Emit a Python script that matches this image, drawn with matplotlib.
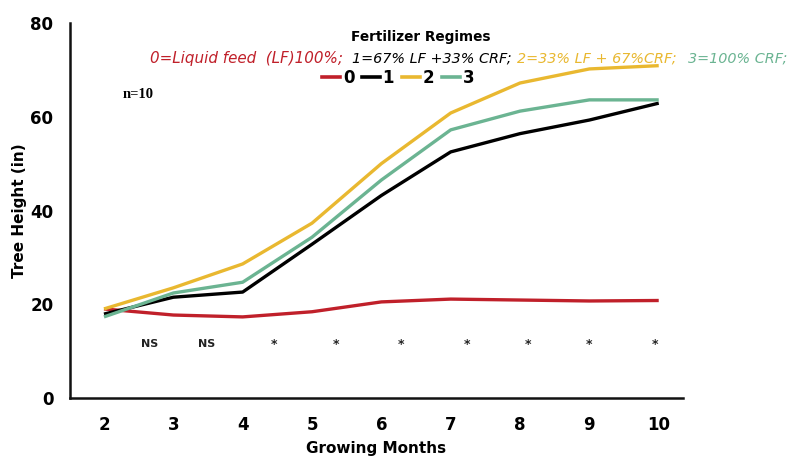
import matplotlib
matplotlib.use("Agg")
import matplotlib.pyplot as plt
from matplotlib.lines import Line2D

months = [2, 3, 4, 5, 6, 7, 8, 9, 10]
regime0 = [19.0, 17.7, 17.3, 18.4, 20.5, 21.1, 20.9, 20.7, 20.8]
regime1 = [17.9, 21.5, 22.6, 32.8, 43.2, 52.5, 56.4, 59.3, 62.9]
regime2 = [19.0, 23.5, 28.6, 37.3, 50.0, 60.8, 67.2, 70.2, 70.9]
regime3 = [17.3, 22.4, 24.7, 34.3, 46.5, 57.2, 61.2, 63.6, 63.6]
series_names = ["0", "1", "2", "3"]
colors = ["#C0202A", "#000000", "#E9B830", "#6BB492"]

sig_x = [2.66, 3.48, 4.45, 5.34, 6.29, 7.23, 8.11, 8.99, 9.94]
sig_labels = ["NS", "NS", "*", "*", "*", "*", "*", "*", "*"]
sig_y = 11.5

subtitle_parts = ["0=Liquid feed  (LF)100%;", "1=67% LF +33% CRF;",
                  "2=33% LF + 67%CRF;", "3=100% CRF;"]

plt.rcParams['font.family'] = ['DejaVu Sans']

fig = plt.figure(figsize=(7.92, 4.58), dpi=100)
ax = fig.add_axes([70/792, 1-398/458, (683-70)/792, (398-23)/458])

for vals, c, n in zip([regime0, regime1, regime2, regime3], colors, series_names):
    ax.plot(months, vals, color=c, lw=2.4, label=n, solid_capstyle='butt')

for x, lab in zip(sig_x, sig_labels):
    ax.text(x, sig_y, lab, ha='center', va='center', fontsize=8 if lab == "NS" else 9,
            fontweight='bold', color='#222222')

ax.set_xlim(1.51, 10.35)
ax.set_ylim(0, 80)
ax.set_xticks(months)
ax.set_yticks([0, 20, 40, 60, 80])
ax.tick_params(length=0, labelsize=12)
ax.tick_params(axis='x', pad=13)
ax.tick_params(axis='y', pad=12)
for lbl in ax.get_xticklabels() + ax.get_yticklabels():
    lbl.set_fontweight('bold')
for s in ['top', 'right']:
    ax.spines[s].set_visible(False)
for s in ['left', 'bottom']:
    ax.spines[s].set_linewidth(1.8)
    ax.spines[s].set_color('#111111')

ax.set_ylabel("Tree Height (in)", fontsize=11, fontweight='bold', labelpad=2)
ax.set_xlabel("Growing Months", fontsize=11, fontweight='bold', labelpad=5)

fig.text(421/792, 1-37/458, "Fertilizer Regimes", ha='center', va='center',
         fontsize=9.8, fontweight='bold')
starts = [150, 352, 517, 688]
sizes = [10.9, 10.4, 10.4, 10.4]
for part, c, x0, fs in zip(subtitle_parts, colors, starts, sizes):
    fig.text(x0/792, 1-58/458, part, ha='left', va='center', fontsize=fs,
             style='italic', color=c)

handles = [Line2D([0], [0], color=c, lw=2.6) for c in colors]
leg = fig.legend(handles, series_names, loc='center', bbox_to_anchor=(398/792, 1-78/458),
                 ncol=4, frameon=False, handlelength=1.1, handletextpad=0.15,
                 columnspacing=0.45, borderpad=0, prop={'weight': 'bold', 'size': 12})

fig.text(123/792, 1-94/458, "n=10", ha='left', va='center', fontsize=10.5,
         fontweight='bold', family='Liberation Serif')

fig.savefig("out.png", dpi=100)
